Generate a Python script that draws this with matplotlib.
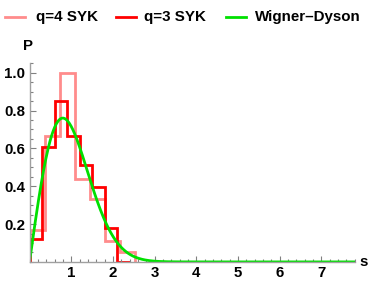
import numpy as np
import matplotlib
matplotlib.use("Agg")
from matplotlib import pyplot as plt
from matplotlib.lines import Line2D
from matplotlib.ticker import MultipleLocator, FixedLocator

plt.rcParams['font.family'] = ['Liberation Sans', 'DejaVu Sans']
plt.rcParams['font.weight'] = 'bold'

# q=4 SYK histogram
q4_edges = [0, 0.36, 0.72, 1.08, 1.44, 1.80, 2.16, 2.52]
q4_vals = [0.17, 0.665, 1.0, 0.44, 0.335, 0.11, 0.055]
# q=3 SYK histogram
q3_edges = [0, 0.3, 0.6, 0.9, 1.2, 1.5, 1.8, 2.1, 2.4]
q3_vals = [0.12, 0.605, 0.848, 0.665, 0.513, 0.395, 0.18, 0.0]

legend_labels = ["q=4 SYK", "q=3 SYK", "Wigner\u2013Dyson"]

# Wigner-Dyson (GOE) surmise
s = np.linspace(0, 7.8, 400)
p_wd = np.pi / 2 * s * np.exp(-np.pi * s ** 2 / 4)

W, H = 374, 285
fig = plt.figure(figsize=(W / 100, H / 100), dpi=100)
ax = fig.add_axes([0.079, 0.081, 0.869, 0.697])

pink = '#ff8c8c'
red = '#ff0000'
green = '#00e000'
colors = [pink, red, green]

ax.stairs(q4_vals, q4_edges, color=pink, lw=2)
ax.stairs(q3_vals, q3_edges, color=red, lw=2)
ax.plot(s, p_wd, color=green, lw=2)

ax.set_xlim(0, 7.8)
ax.set_ylim(0, 1.05)

for sp in ['top', 'right']:
    ax.spines[sp].set_visible(False)
for sp in ['left', 'bottom']:
    ax.spines[sp].set_color('#a0a0a0')
    ax.spines[sp].set_linewidth(1.0)

ax.xaxis.set_major_locator(FixedLocator([1, 2, 3, 4, 5, 6, 7]))
ax.xaxis.set_minor_locator(MultipleLocator(0.2))
ax.yaxis.set_major_locator(FixedLocator([0.2, 0.4, 0.6, 0.8, 1.0]))
ax.yaxis.set_minor_locator(MultipleLocator(0.05))
ax.tick_params(which='both', direction='in', color='#808080', width=0.8,
               labelsize=10.8, pad=3)
ax.tick_params(which='major', length=4)
ax.tick_params(which='minor', length=2.2)
for lab in ax.get_xticklabels() + ax.get_yticklabels():
    lab.set_fontweight('bold')

fig.text(28 / W, 1 - 46 / H, "P", fontsize=10.8, fontweight='bold',
         ha='center', va='center')
fig.text(364 / W, 1 - 262 / H, "s", fontsize=10.8, fontweight='bold',
         ha='center', va='center')

# legend row drawn by hand
handle_x = [5, 116, 226]
text_x = [36, 144, 255]
ly = 1 - 17 / H
for hx, tx, lab, c in zip(handle_x, text_x, legend_labels, colors):
    fig.add_artist(Line2D([hx / W, (hx + 20) / W], [ly, ly], color=c, lw=2,
                          transform=fig.transFigure))
    fig.text(tx / W, ly, lab, fontsize=10.9, fontweight='bold',
             ha='left', va='center')

fig.savefig("out.png", dpi=100)
